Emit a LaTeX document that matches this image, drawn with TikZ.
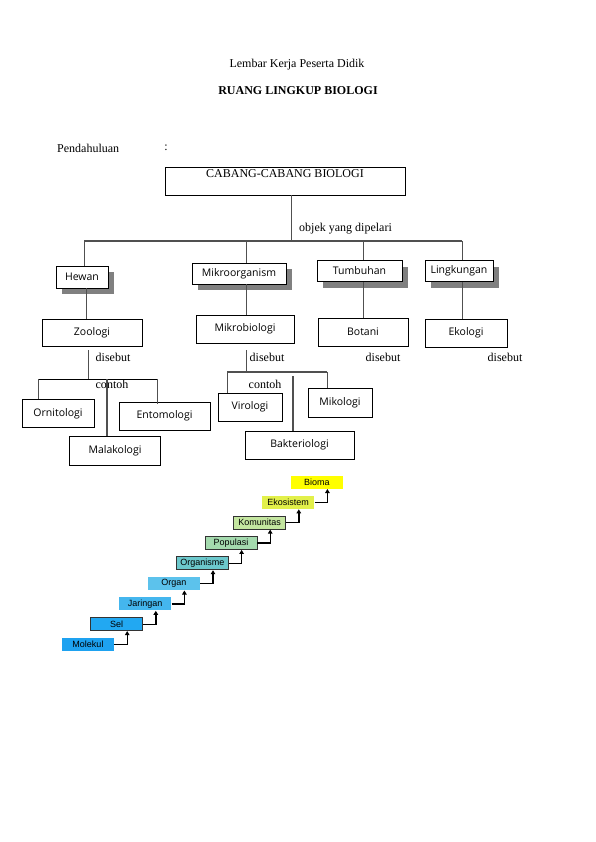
\documentclass[tikz,border=0pt]{standalone}
\usepackage{fontspec}
\setmainfont{Liberation Serif}
\newfontfamily\boxfont{Open Sans}
\newfontfamily\stairfont{Liberation Sans}
\usetikzlibrary{shadows,arrows.meta}
\definecolor{cMol}{HTML}{1EA2F0}
\definecolor{cSel}{HTML}{22A8F2}
\definecolor{cJar}{HTML}{44B6EE}
\definecolor{cOrg}{HTML}{5CC2EC}
\definecolor{cOrs}{HTML}{6CC8CC}
\definecolor{cPop}{HTML}{A4DAAE}
\definecolor{cKom}{HTML}{C4E6A0}
\definecolor{cEko}{HTML}{E2F04A}
\definecolor{cBio}{HTML}{FFFF00}
\definecolor{lineGray}{HTML}{505050}
\tikzset{
  txt/.style={inner sep=0pt, font=\fontsize{12}{14}\selectfont},
  treebox/.style={draw=black, line width=0.8pt, fill=white, inner sep=0pt,
    font=\boxfont\fontsize{10.5}{12}\selectfont},
  shadowbox/.style={treebox, drop shadow={shadow xshift=6pt, shadow yshift=-6pt, fill=black!50, opacity=1}},
  treeline/.style={draw=lineGray, line width=1pt},
  stairbox/.style={minimum width=52pt, minimum height=13pt, inner sep=0pt, line width=0.8pt,
    font=\stairfont\fontsize{9}{10}\selectfont},
  stairarrow/.style={draw=black, line width=1.4pt, -{Triangle[length=4pt,width=4.5pt]}}
}
\begin{document}
\begin{tikzpicture}[x=1pt,y=-1pt]
\useasboundingbox (0,0) rectangle (595,842);
% titles
\node[txt] (title) at (297,65) {Lembar Kerja Peserta Didik};
\node[txt, font=\bfseries\fontsize{12}{14}\selectfont] (subtitle) at (298,91) {RUANG LINGKUP BIOLOGI};
\node[txt, anchor=west] (pend) at (57,148) {Pendahuluan};
\node[txt] (colon) at (166,148) {:};
% main box
\node[draw=black, line width=0.8pt, minimum width=240pt, minimum height=28pt, inner xsep=0pt, inner ysep=2.5pt,
  text height=8pt, text depth=15pt, font=\fontsize{12}{14}\selectfont] (cabang) at (285,181) {CABANG-CABANG BIOLOGI};
\node[txt, anchor=west] (objek) at (299,229) {objek yang dipelari};
% bus
\coordinate (c0) at (291,241);
\coordinate (bL) at (84,241);
\coordinate (bM) at (246,241);
\coordinate (bT) at (363,241);
\coordinate (bR) at (462,241);
\draw[treeline] (cabang.south -| c0) -- (c0);
\draw[treeline, line width=1.5pt] (bL) -- (bR);
% level 1 boxes
\node[shadowbox, minimum width=52pt, minimum height=22pt] (hewan) at (82,277) {Hewan};
\node[shadowbox, minimum width=94pt, minimum height=21pt] (mikroorg) at (239,273.5) {Mikroorganism};
\node[shadowbox, minimum width=85pt, minimum height=21pt] (tumbuhan) at (359.5,271) {Tumbuhan};
\node[shadowbox, minimum width=68pt, minimum height=21pt] (lingkungan) at (459,271) {Lingkungan};
\draw[treeline] (bL) -- (bL |- hewan.north);
\draw[treeline] (bM) -- (bM |- mikroorg.north);
\draw[treeline] (bT) -- (bT |- tumbuhan.north);
\draw[treeline] (bR) -- (bR |- lingkungan.north);
% level 2 boxes
\node[treebox, minimum width=100pt, minimum height=27pt] (zoologi) at (92,332.5) {Zoologi};
\node[treebox, minimum width=98pt, minimum height=28pt] (mikrobio) at (245,329) {Mikrobiologi};
\node[treebox, minimum width=90pt, minimum height=28pt] (botani) at (363,332) {Botani};
\node[treebox, minimum width=82pt, minimum height=28pt] (ekologi) at (466,333) {Ekologi};
\coordinate (hx) at (86,0);
\coordinate (mx) at (246,0);
\draw[treeline] (hx |- hewan.south) -- (hx |- zoologi.north);
\draw[treeline] (mx |- mikroorg.south) -- (mx |- mikrobio.north);
\draw[treeline] (bT |- tumbuhan.south) -- (bT |- botani.north);
\draw[treeline] (bR |- lingkungan.south) -- (bR |- ekologi.north);
% disebut labels
\node[txt] (ds1) at (113,357) {disebut};
\node[txt] (ds2) at (267,357) {disebut};
\node[txt] (ds3) at (383,357) {disebut};
\node[txt] (ds4) at (505,357) {disebut};
% zoologi children
\node[treebox, minimum width=72pt, minimum height=28pt] (ornitologi) at (58,413.5) {Ornitologi};
\node[treebox, minimum width=91pt, minimum height=28pt] (entomologi) at (164.5,416) {Entomologi};
\node[treebox, minimum width=91pt, minimum height=29pt] (malakologi) at (115,450.5) {Malakologi};
\coordinate (zb) at (88,379);
\coordinate (zL) at (38,379);
\coordinate (zM) at (107,379);
\coordinate (zR) at (157,379);
\draw[treeline] (zb |- zoologi.south) ++(0,4) -- (zb);
\draw[treeline, line width=0.9pt, draw=black] (zL) -- (zR);
\draw[treeline] (zL) -- (zL |- ornitologi.north);
\draw[treeline] (zR) -- ([yshift=-2pt]zR |- entomologi.north);
\draw[treeline, line width=1.5pt] (zM) -- (zM |- malakologi.north);
\node[txt] (ct1) at (112,384) {contoh};
% mikrobiologi children
\node[treebox, minimum width=64pt, minimum height=28pt] (virologi) at (250,407) {Virologi};
\node[treebox, minimum width=64pt, minimum height=29pt] (mikologi) at (340,402.5) {Mikologi};
\node[treebox, minimum width=109pt, minimum height=28pt] (bakteri) at (299.5,445) {Bakteriologi};
\coordinate (mb) at (246,372);
\coordinate (mL) at (227,372);
\coordinate (mR) at (327,372);
\coordinate (mM) at (293,376);
\draw[treeline] (mb |- mikrobio.south) ++(0,7) -- (mb);
\draw[treeline, line width=1.2pt] (mL) -- (mR);
\draw[treeline] (mL) -- (mL |- virologi.north);
\draw[treeline] (mR) -- (mR |- mikologi.north);
\draw[treeline, line width=1.5pt] (mM) -- (mM |- bakteri.north);
\node[txt] (ct2) at (265,384) {contoh};
% staircase
\node[stairbox, fill=cMol] (molekul) at (88,644.5) {Molekul};
\node[stairbox, fill=cSel, draw=black!80] (sel) at (116.6,624.2) {Sel};
\node[stairbox, fill=cJar] (jaringan) at (145.2,603.9) {Jaringan};
\node[stairbox, fill=cOrg] (organ) at (173.8,583.6) {Organ};
\node[stairbox, fill=cOrs, draw=black!80] (organisme) at (202.4,563.3) {Organisme};
\node[stairbox, fill=cPop, draw=black!80] (populasi) at (231,543) {Populasi};
\node[stairbox, fill=cKom, draw=black!80] (komunitas) at (259.6,522.7) {Komunitas};
\node[stairbox, fill=cEko] (ekosistem) at (288.2,502.4) {Ekosistem};
\node[stairbox, fill=cBio] (bioma) at (316.8,482.1) {Bioma};
\draw[stairarrow] (molekul.east) -| ([xshift=37pt]sel.south west);
\draw[stairarrow] (sel.east) -| ([xshift=37pt]jaringan.south west);
\draw[stairarrow] (jaringan.east) -| ([xshift=37pt]organ.south west);
\draw[stairarrow] (organ.east) -| ([xshift=37pt]organisme.south west);
\draw[stairarrow] (organisme.east) -| ([xshift=37pt]populasi.south west);
\draw[stairarrow] (populasi.east) -| ([xshift=37pt]komunitas.south west);
\draw[stairarrow] (komunitas.east) -| ([xshift=37pt]ekosistem.south west);
\draw[stairarrow] (ekosistem.east) -| ([xshift=37pt]bioma.south west);
\end{tikzpicture}
\end{document}
